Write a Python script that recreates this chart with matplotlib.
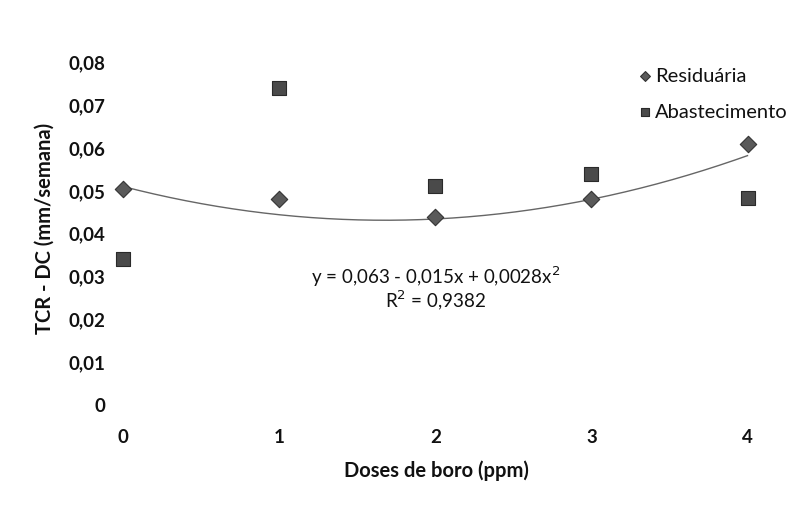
import numpy as np
import matplotlib.pyplot as plt
from matplotlib.ticker import FuncFormatter

# doses de boro (ppm) e TCR - DC (mm/semana)
doses = [0, 1, 2, 3, 4]
residuaria = [0.0503, 0.0478, 0.0436, 0.0478, 0.0606]
abastecimento = [0.0338, 0.0739, 0.0508, 0.0538, 0.0480]

# linha de tendência polinomial (x = posição 1..5 da categoria)
coef = [0.063, -0.015, 0.0028]
r2 = 0.9382

plt.rcParams['font.family'] = ['Lato', 'DejaVu Sans']

fig = plt.figure(figsize=(7.95, 5.06), dpi=100)
ax = fig.add_axes([112 / 795, (506 - 405) / 506, (760 - 112) / 795, (405 - 41) / 506])

xs = np.linspace(0, 4, 200)
t = xs + 1
ax.plot(xs, coef[0] + coef[1] * t + coef[2] * t ** 2, color='#666666', lw=1.0, zorder=1)

ax.scatter(doses, residuaria, marker='D', s=70, color='#5a5a5a', edgecolor='#333333',
           linewidth=0.8, label='Residuária', zorder=3, clip_on=False)
ax.scatter(doses, abastecimento, marker='s', s=100, color='#4a4a4a', edgecolor='#2a2a2a',
           linewidth=0.8, label='Abastecimento', zorder=3, clip_on=False)

ax.set_xlim(-0.07, 4.08)
ax.set_ylim(0, 0.085)
ax.set_xticks(doses)
ax.set_yticks(np.arange(0, 0.081, 0.01))
ax.yaxis.set_major_formatter(FuncFormatter(lambda v, p: '0' if abs(v) < 1e-9 else f'{v:.2f}'.replace('.', ',')))
ax.tick_params(length=0, labelsize=13.5, colors='#111111')
ax.tick_params(axis='x', pad=17)
ax.tick_params(axis='y', pad=5)
for lab in ax.get_xticklabels() + ax.get_yticklabels():
    lab.set_fontweight('bold')
for s in ax.spines.values():
    s.set_visible(False)

ax.set_xlabel('Doses de boro (ppm)', fontsize=14.5, fontweight='bold', labelpad=11, color='#111111')
fig.text(45 / 795, 1 - 228 / 506, 'TCR - DC (mm/semana)', rotation=90, fontsize=14.5,
         fontweight='bold', ha='center', va='center', color='#111111')

ax.text(2.0, 0.0300, 'y = 0,063 - 0,015x + 0,0028x$^2$', ha='center', va='center',
        fontsize=13.5, color='#111111')
ax.text(2.0, 0.0245, 'R$^2$ = 0,9382', ha='center', va='center', fontsize=13.5, color='#111111')

leg = fig.legend(loc='upper left', bbox_to_anchor=(628 / 795, 1 - 60 / 506), frameon=False,
                 fontsize=14.5, handletextpad=0.05, labelspacing=0.95, markerscale=0.6,
                 borderaxespad=0, handlelength=0.9)
for txt in leg.get_texts():
    txt.set_color('#111111')

fig.savefig('out.png', dpi=100)
